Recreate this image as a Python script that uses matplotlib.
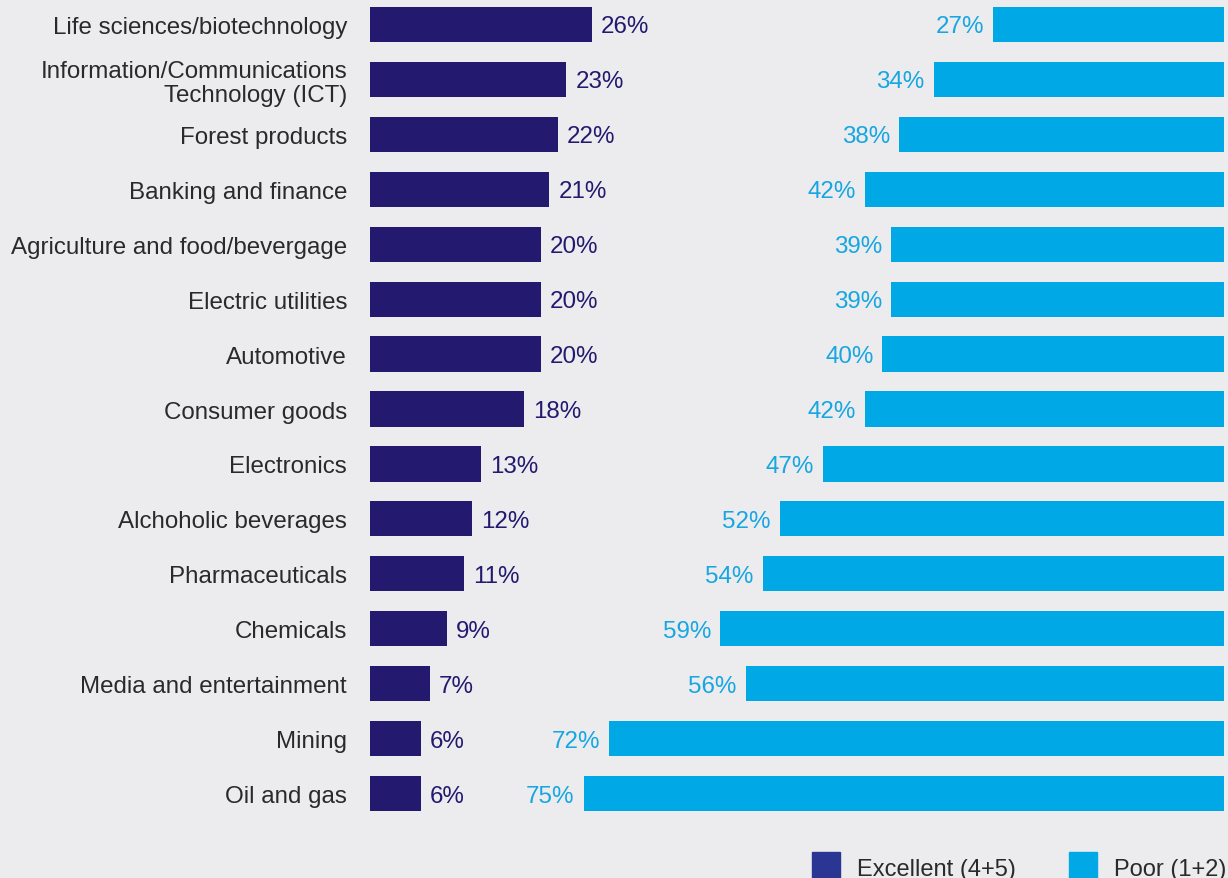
import matplotlib
matplotlib.use("Agg")
import matplotlib.pyplot as plt
from matplotlib.patches import Rectangle

categories = [
    "Life sciences/biotechnology",
    "Information/Communications\nTechnology (ICT)",
    "Forest products",
    "Banking and finance",
    "Agriculture and food/bevergage",
    "Electric utilities",
    "Automotive",
    "Consumer goods",
    "Electronics",
    "Alchoholic beverages",
    "Pharmaceuticals",
    "Chemicals",
    "Media and entertainment",
    "Mining",
    "Oil and gas",
]
excellent = [26, 23, 22, 21, 20, 20, 20, 18, 13, 12, 11, 9, 7, 6, 6]
poor = [27, 34, 38, 42, 39, 39, 40, 42, 47, 52, 54, 59, 56, 72, 75]
legend_labels = ["Excellent (4+5)", "Poor (1+2)"]

BG = "#ececee"
NAVY = "#231a70"
NAVY_LEG = "#2b3593"
BLUE = "#00a9e6"
BLUE_TXT = "#16a6e2"
TXT = "#2a2a2a"
FS = 17.4

plt.rcParams["font.family"] = ["Liberation Sans", "DejaVu Sans"]

W, H = 1228, 879
fig = plt.figure(figsize=(W / 100, H / 100), dpi=100, facecolor=BG)
ax = fig.add_axes([370 / W, (H - 830) / H, (1224 - 370) / W, 830 / H])
ax.set_facecolor(BG)

y = list(range(len(categories)))
ax.barh(y, excellent, height=0.64, color=NAVY)
ax.barh(y, poor, left=[100 - p for p in poor], height=0.64, color=BLUE)

ax.set_xlim(0, 100)
ax.set_ylim(14 + 35.5 / 54.93, -25.5 / 54.93)

for yi, v in zip(y, excellent):
    ax.annotate(f"{v}%", (v, yi), xytext=(9, -2), textcoords="offset pixels",
                ha="left", va="center", color=NAVY, fontsize=FS)
for yi, v in zip(y, poor):
    ax.annotate(f"{v}%", (100 - v, yi), xytext=(-9, -2), textcoords="offset pixels",
                ha="right", va="center", color=BLUE_TXT, fontsize=FS)

ax.set_yticks(y, labels=categories, fontsize=FS, color=TXT)
for t in ax.get_yticklabels():
    t.set_linespacing(1.15)
ax.tick_params(axis="y", length=0, pad=16.5)
ax.set_xticks([])
for s in ax.spines.values():
    s.set_visible(False)

# legend, drawn by hand in figure pixels
leg_colors = [NAVY_LEG, BLUE]
leg_x = [812, 1069]
for lx, lc, lab in zip(leg_x, leg_colors, legend_labels):
    fig.add_artist(Rectangle((lx / W, (H - 881) / H), 28 / W, 28 / H,
                             transform=fig.transFigure, color=lc))
    fig.text((lx + 45) / W, (H - 876) / H, lab, fontsize=17, color=TXT,
             ha="left", va="baseline")

fig.savefig("out.png", dpi=100, facecolor=BG)
